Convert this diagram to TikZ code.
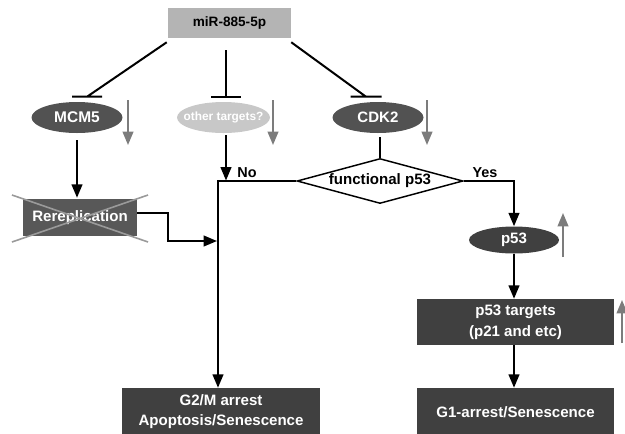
\documentclass[tikz,border=0pt]{standalone}
\usepackage{fontspec}
\setmainfont{Liberation Sans}
\usetikzlibrary{arrows.meta,shapes.geometric,calc}
\definecolor{boxdark}{HTML}{404040}
\definecolor{elldark}{HTML}{525252}
\definecolor{elllight}{HTML}{C8C8C8}
\definecolor{topgray}{HTML}{B4B4B4}
\definecolor{rerepgray}{HTML}{585858}
\definecolor{garrow}{HTML}{7C7C7C}
\definecolor{crossgray}{HTML}{9A9A9A}
\begin{document}
\begin{tikzpicture}[x=0.75pt,y=-0.75pt,
  txt/.style={font=\fontsize{11.3}{15}\selectfont\bfseries},
  rectbox/.style={rectangle,fill=boxdark,text=white,inner sep=0pt,align=center,txt},
  ell/.style={ellipse,fill=elldark,text=white,inner sep=0pt,txt},
  arr/.style={line width=1.5pt,-{Triangle[length=10pt,width=8pt]}},
  inh/.style={line width=1.5pt},
  garr/.style={draw=garrow,line width=1.4pt,-{Triangle[length=10pt,width=8pt]}},
  crossline/.style={draw=crossgray,line width=1.2pt},
  lbl/.style={font=\fontsize{10.8}{13}\selectfont\bfseries,inner sep=0pt}]
\useasboundingbox (0,0) rectangle (625,433);

% nodes
\node[rectangle,fill=topgray,inner sep=0pt,minimum width=92.25pt,minimum height=22.5pt,
      font=\fontsize{10.2}{12}\selectfont\bfseries] (mir) at (229.5,23) {miR-885-5p};
\node[ell,minimum width=68.25pt,minimum height=23.25pt,font=\fontsize{11.6}{13}\selectfont\bfseries] (mcm5) at (77,117.5) {MCM5};
\node[ell,fill=elllight,inner xsep=-12pt,minimum width=69.75pt,minimum height=23.25pt,
      font=\fontsize{8.9}{11}\selectfont\bfseries] (oth) at (223.5,117.5) {other targets?};
\node[ell,minimum width=68.25pt,minimum height=23.25pt] (cdk2) at (378,117.5) {CDK2};
\node[rectbox,fill=rerepgray,minimum width=85.5pt,minimum height=27.75pt] (rerep) at (80,217.5) {Rereplication};
\draw[crossline] (12,195) -- (148,242);
\draw[crossline] (12,242) -- (148,195);
\node[diamond,draw,line width=1.1pt,fill=white,inner sep=0pt,shape aspect=3.7,
      minimum width=124.5pt,minimum height=33.75pt,txt] (dia) at (380,181) {functional p53};
\node[ell,fill=boxdark,minimum width=67.5pt,minimum height=20.25pt] (p53) at (514,240) {p53};
\node[rectbox,minimum width=147.75pt,minimum height=34.5pt,font=\fontsize{11.3}{16}\selectfont\bfseries] (tgt) at (515.5,322) {p53 targets\\(p21 and etc)};
\node[rectbox,minimum width=147.75pt,minimum height=36pt] (g1) at (515.5,412) {G1-arrest/Senescence};
\node[rectbox,minimum width=148.5pt,minimum height=36pt] (g2m) at (221,412) {G2/M arrest\\Apoptosis/Senescence};
\node[lbl] (no) at (247,173) {No};
\node[lbl] (yes) at (485,173) {Yes};

% inhibition connectors
\coordinate (b1) at ($(mcm5.north)+(10,-5)$);
\coordinate (b2) at ($(oth.north)+(2.5,-5)$);
\coordinate (b3) at ($(cdk2.north)+(-12,-5)$);
\draw[inh] ($(mir.south west)+(-1,4)$) -- (b1) ($(b1)+(-15,0)$) -- ($(b1)+(15,0)$);
\draw[inh] ($(mir.south)+(-3.5,12)$) -- (b2) ($(b2)+(-15,0)$) -- ($(b2)+(15,0)$);
\draw[inh] ($(mir.south east)+(0,4)$) -- (b3) ($(b3)+(-15.5,0)$) -- ($(b3)+(15.5,0)$);

% gray level arrows
\coordinate (g1s) at (128,100); \coordinate (g1e) at (128,145);
\coordinate (g2s) at (273,100); \coordinate (g2e) at (273,145);
\coordinate (g3s) at (427,100); \coordinate (g3e) at (427,145);
\coordinate (g4s) at (563,257); \coordinate (g4e) at (563,213);
\coordinate (g5s) at (622,343); \coordinate (g5e) at (622,300);
\draw[garr] (g1s) -- (g1e);
\draw[garr] (g2s) -- (g2e);
\draw[garr] (g3s) -- (g3e);
\draw[garr] (g4s) -- (g4e);
\draw[garr] (g5s) -- (g5e);

% flow connectors
\draw[arr] ($(mcm5.south)+(0,7)$) -- ($(rerep.north)+(-3,-1)$);
\coordinate (jn) at (217,241);
\draw[arr] ($(rerep.east)+(0,-4.5)$) -- ++(31,0) |- (jn);
\coordinate (noend) at (226,180.5);
\draw[arr] ($(oth.south)+(2.5,2)$) -- (noend);
\draw[line width=1.5pt] ($(cdk2.south)+(2,4)$) -- (dia.north);
\draw[arr] (dia.west) -| ($(g2m.north)+(-3,0)$);
\draw[arr] (dia.east) -| (p53.north);
\draw[arr] (p53.south) -- (p53.south |- tgt.north);
\draw[arr] (p53.south |- tgt.south) -- (p53.south |- g1.north);
\end{tikzpicture}
\end{document}
